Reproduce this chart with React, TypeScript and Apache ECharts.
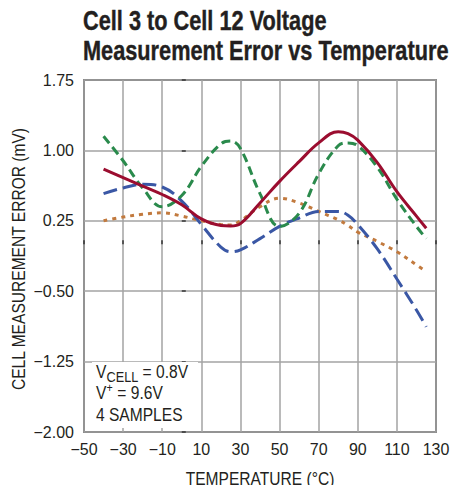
import React, { useEffect, useRef } from "react";
import * as echarts from "echarts";

const temps = [-40, -30, -20, -10, 0, 10, 20, 25, 30, 40, 50, 60, 70, 80, 85, 90, 100, 110, 120, 125];
const redVals = [0.8, 0.71, 0.62, 0.53, 0.42, 0.27, 0.2, 0.195, 0.22, 0.44, 0.67, 0.88, 1.08, 1.2, 1.18, 1.11, 0.87, 0.56, 0.3, 0.17];
const greenVals = [1.15, 0.89, 0.6, 0.4, 0.52, 0.83, 1.07, 1.1, 1.02, 0.54, 0.19, 0.33, 0.75, 1.05, 1.08, 1.05, 0.82, 0.48, 0.19, 0.06];
const blueVals = [0.54, 0.6, 0.64, 0.61, 0.46, 0.21, -0.03, -0.08, -0.06, 0.06, 0.19, 0.28, 0.35, 0.35, 0.31, 0.21, -0.05, -0.37, -0.7, -0.88];
const orangeVals = [0.25, 0.29, 0.32, 0.335, 0.3, 0.25, 0.21, 0.205, 0.25, 0.4, 0.49, 0.44, 0.35, 0.26, 0.2, 0.13, 0.03, -0.08, -0.22, -0.29];

const titleLines = ["Cell 3 to Cell 12 Voltage", "Measurement Error vs Temperature"];
const xName = "TEMPERATURE (°C)";
const yName = "CELL MEASUREMENT ERROR (mV)";

const FONT = "'Liberation Sans', Arial, sans-serif";
const NARROW = 0.82;
const INK = "#231f20";

const pair = (vals: number[]) => temps.map((t, i) => [t, vals[i]]);
const minus = (s: string) => s.replace("-", "\u2212");

const txt = (text: string, x: number, y: number, size: number, extra: any = {}) => ({
  type: "text",
  x,
  y,
  z: 11,
  scaleX: NARROW,
  ...extra,
  style: { text, fontFamily: FONT, fontSize: size, fill: INK, verticalAlign: "bottom", ...(extra.style || {}) },
});

export default function App() {
  const ref = useRef<HTMLDivElement>(null);
  useEffect(() => {
    if (!ref.current) return;
    const chart = echarts.init(ref.current, undefined, { renderer: "svg" });
    const lineSeries = (name: string, vals: number[], color: string, type: any) => ({
      name,
      type: "line",
      data: pair(vals),
      smooth: 0.4,
      showSymbol: false,
      lineStyle: { color, width: 3, type, cap: "butt" },
    });
    chart.setOption({
      animation: false,
      grid: {
        left: 84,
        top: 80,
        width: 352,
        height: 352,
        show: true,
        borderColor: "#333",
        borderWidth: 1.5,
        backgroundColor: "transparent",
      },
      xAxis: {
        type: "value",
        min: -50,
        max: 130,
        interval: 20,
        axisLine: { show: false },
        axisTick: { show: true, inside: true, length: 4, lineStyle: { color: "#333", width: 1.5 } },
        splitLine: { show: true, lineStyle: { color: "#a3a3a3", width: 1.5 } },
        axisLabel: {
          fontFamily: FONT,
          fontSize: 16,
          color: INK,
          margin: 9,
          formatter: (v: number) => minus(String(v)),
        },
      },
      yAxis: {
        type: "value",
        min: -2,
        max: 1.75,
        interval: 0.75,
        axisLine: { show: false },
        axisTick: { show: true, inside: true, length: 4, lineStyle: { color: "#333", width: 1.5 } },
        splitLine: { show: true, lineStyle: { color: "#a3a3a3", width: 1.5 } },
        axisLabel: {
          fontFamily: FONT,
          fontSize: 16,
          color: INK,
          margin: 10,
          formatter: (v: number) => minus(v.toFixed(2)),
        },
      },
      graphic: [
        txt(titleLines[0], 83, 34, 27, { scaleX: 0.805, style: { fontWeight: "bold", stroke: INK, lineWidth: 0.4 } }),
        txt(titleLines[1], 83, 64.5, 27, { scaleX: 0.805, style: { fontWeight: "bold", stroke: INK, lineWidth: 0.4 } }),
        {
          type: "text",
          x: 18,
          y: 259,
          rotation: Math.PI / 2,
          scaleX: NARROW,
          style: { text: yName, fontFamily: FONT, fontSize: 19, fill: INK, align: "center", verticalAlign: "middle" },
        },
        {
          type: "text",
          x: 260,
          y: 478,
          scaleX: NARROW,
          style: { text: xName, fontFamily: FONT, fontSize: 19, fill: INK, align: "center", verticalAlign: "middle" },
        },
        {
          type: "rect",
          shape: { x: 92, y: 362, width: 106, height: 66 },
          style: { fill: "#fff" },
          z: 10,
        },
        txt("V", 96, 381, 19),
        txt("CELL", 106.5, 385, 15.5),
        txt(" = 0.8V", 138.3, 381, 19),
        txt("V", 96, 402, 19),
        txt("+", 106.5, 394, 13),
        txt(" = 9.6V", 113, 402, 19),
        txt("4 SAMPLES", 96, 424, 19),
      ],
      series: [
        lineSeries("orange", orangeVals, "#c27a3e", [4, 5]),
        lineSeries("blue", blueVals, "#3a57a5", [14, 6]),
        lineSeries("green", greenVals, "#2a8a4c", [9, 5]),
        lineSeries("red", redVals, "#9b0d2f", "solid"),
      ],
    });
    return () => chart.dispose();
  }, []);
  return <div ref={ref} style={{ width: 461, height: 493, margin: -8 }} />;
}
